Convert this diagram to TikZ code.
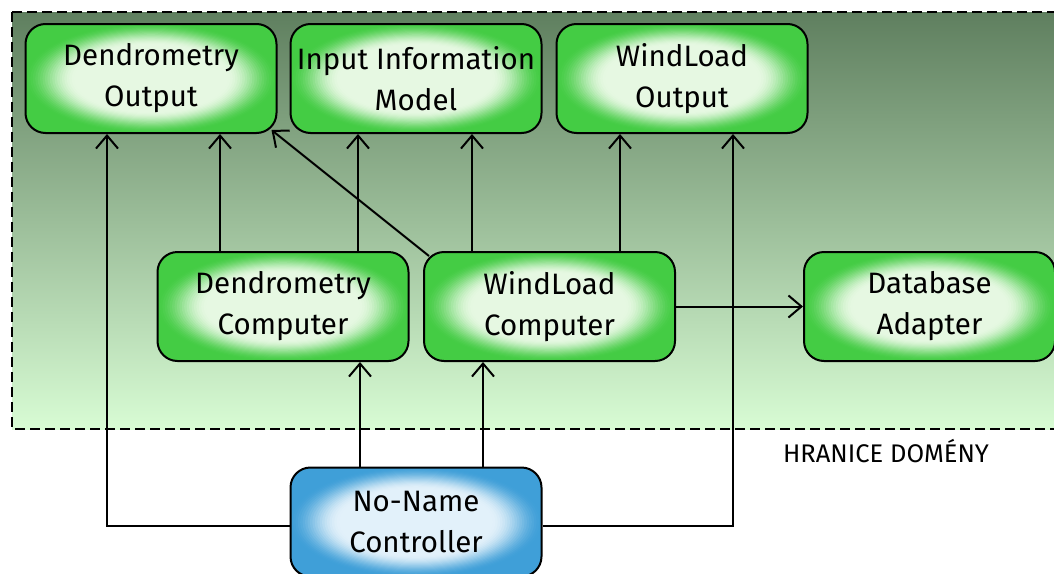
\documentclass[tikz,border=0pt]{standalone}
\usepackage{fontspec}
\setmainfont{Fira Sans}
\usetikzlibrary{arrows.meta}
\definecolor{gin}{HTML}{E6F8E2}
\definecolor{gout}{HTML}{44CC44}
\definecolor{bin}{HTML}{E2F1FA}
\definecolor{bout}{HTML}{3F9FD8}
\definecolor{bgtop}{HTML}{5F7F5F}
\definecolor{bgbot}{HTML}{D8FCD4}
\begin{document}
\begin{tikzpicture}[x=1pt,y=-1pt,
  gradfill/.style 2 args={path picture={
    \fill[#2] (path picture bounding box.south west) rectangle (path picture bounding box.north east);
    \foreach \k in {0,...,40}{
      \pgfmathsetmacro\tt{min(1,\k/21)}
      \pgfmathsetmacro\ff{1-0.019*\k}
      \pgfmathsetmacro\pp{100*(3*\tt*\tt-2*\tt*\tt*\tt)}
      \pgfmathsetmacro\rx{128*\ff}
      \pgfmathsetmacro\ry{56*\ff}
      \fill[#1!\pp!#2] (path picture bounding box.center) ellipse [x radius=\rx pt, y radius=\ry pt];
    }}},
  box/.style={draw=black, line width=2pt, rounded corners=20pt, gradfill={gin}{gout},
    minimum width=251pt, minimum height=109pt, align=center, inner sep=0pt,
    font=\fontsize{29.5}{41}\selectfont},
  ctlbox/.style={box, gradfill={bin}{bout}},
  arr/.style={line width=2pt, -{Straight Barb[length=13pt,width=22pt,line width=2pt]}},
  domainbox/.style={draw=black, line width=2pt, dash pattern=on 10pt off 5pt, top color=bgtop, bottom color=bgbot},
  lbl/.style={font=\fontsize{25.5}{30}\selectfont}
]
\useasboundingbox (0,0) rectangle (1054,573);
\path[domainbox] (12,12) rectangle (1070,429);

\node[box] (dout)  at (151,78.5)  {Dendrometry\\Output};
\node[box] (iim)   at (416,78.5)  {Input Information\\Model};
\node[box] (wout)  at (682,78.5)  {WindLoad\\Output};
\node[box] (dcomp) at (283,306.5) {Dendrometry\\Computer};
\node[box] (wcomp) at (549.5,306.5) {WindLoad\\Computer};
\node[box] (dba)   at (929.5,306.5) {Database\\Adapter};
\node[ctlbox] (ctl) at (416,522)  {No-Name\\Controller};
\node[lbl] (hd) at (886,451) {HRANICE DOMÉNY};

\draw[arr] ([yshift=-4pt]ctl.west) -| ([xshift=-44pt]dout.south);
\draw[arr] ([yshift=-4pt]ctl.east) -| ([xshift=51pt]wout.south);
\draw[arr] ([xshift=-56pt]ctl.north) -- ([xshift=-56pt]ctl.north |- dcomp.south);
\draw[arr] ([xshift=67pt]ctl.north) -- ([xshift=67pt]ctl.north |- wcomp.south);
\draw[arr] ([xshift=-63pt]dcomp.north) -- ([xshift=-63pt]dcomp.north |- dout.south);
\draw[arr] ([xshift=75pt]dcomp.north) -- ([xshift=75pt]dcomp.north |- iim.south);
\draw[arr] ([xshift=-77.5pt]wcomp.north) -- ([xshift=-77.5pt]wcomp.north |- iim.south);
\draw[arr] ([xshift=70.5pt]wcomp.north) -- ([xshift=70.5pt]wcomp.north |- wout.south);
\draw[arr] ([shift={(6,5)}]wcomp.north west) -- ([shift={(-6,-4)}]dout.south east);
\draw[arr] (wcomp.east) -- (dba.west);
\end{tikzpicture}
\end{document}
